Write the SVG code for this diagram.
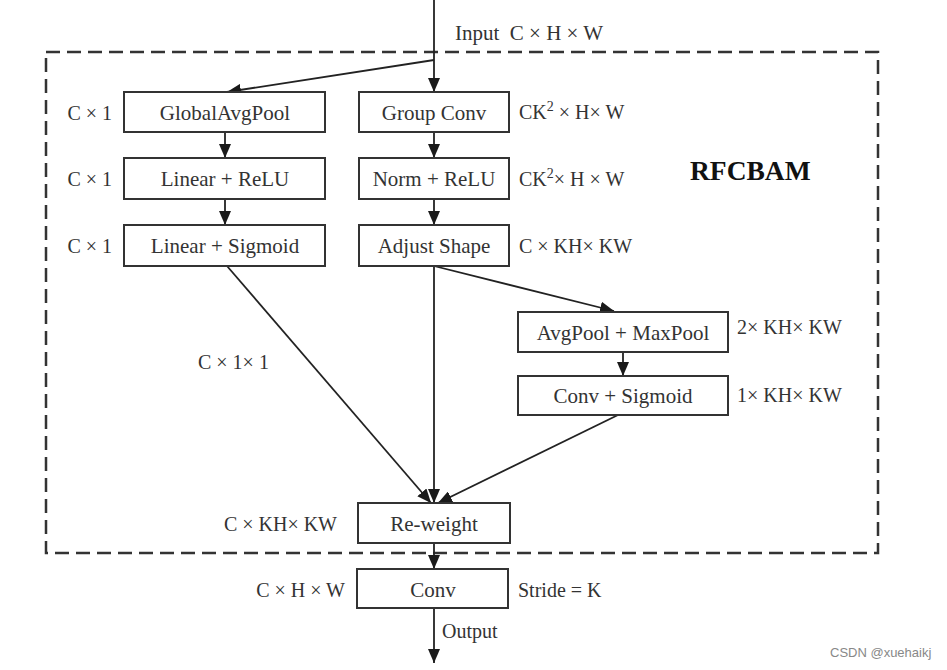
<svg xmlns="http://www.w3.org/2000/svg" width="947" height="670" viewBox="0 0 947 670">
<defs>
<marker id="arr" markerUnits="userSpaceOnUse" markerWidth="14" markerHeight="12" refX="14" refY="6" orient="auto">
<path d="M0,0 L14,6 L0,12 z" fill="#1a1a1a"/>
</marker>
<style>
.box{fill:#fff;stroke:#333;stroke-width:2}
.t{font-family:"Liberation Serif","Times New Roman",serif;font-size:21px;fill:#333;text-anchor:middle}
.l{font-family:"Liberation Serif","Times New Roman",serif;font-size:20px;fill:#333}
.e{text-anchor:end}
.c{fill:none;stroke:#222;stroke-width:1.8;marker-end:url(#arr)}
.sup{font-size:14px}
</style>
</defs>
<rect width="947" height="670" fill="#fff"/>
<rect x="46" y="52" width="832" height="501" fill="none" stroke="#333" stroke-width="2.5" stroke-dasharray="14 7"/>
<g id="connectors">
<line class="c" x1="434" y1="0" x2="434" y2="92"/>
<line class="c" x1="434" y1="60" x2="227" y2="92"/>
<line class="c" x1="225" y1="132" x2="225" y2="158"/>
<line class="c" x1="225" y1="199" x2="225" y2="225"/>
<line class="c" x1="434" y1="132" x2="434" y2="158"/>
<line class="c" x1="434" y1="199" x2="434" y2="225"/>
<line class="c" x1="434" y1="266" x2="614" y2="311"/>
<line class="c" x1="623" y1="352" x2="623" y2="376"/>
<line class="c" x1="227" y1="266" x2="431" y2="503"/>
<line class="c" x1="434" y1="266" x2="434" y2="503"/>
<line class="c" x1="618" y1="415" x2="438" y2="503"/>
<line class="c" x1="434" y1="543" x2="434" y2="569"/>
<line class="c" x1="434" y1="608" x2="434" y2="663"/>
</g>
<g id="globalavgpool"><rect class="box" x="124" y="92" width="201" height="40"/><text class="t" x="225" y="119.5">GlobalAvgPool</text></g>
<g id="linear-relu"><rect class="box" x="124" y="158" width="201" height="41"/><text class="t" x="225" y="186">Linear + ReLU</text></g>
<g id="linear-sigmoid"><rect class="box" x="124" y="225" width="201" height="41"/><text class="t" x="225" y="253">Linear + Sigmoid</text></g>
<g id="group-conv"><rect class="box" x="359" y="92" width="150" height="40"/><text class="t" x="434" y="119.5">Group Conv</text></g>
<g id="norm-relu"><rect class="box" x="359" y="158" width="150" height="41"/><text class="t" x="434" y="186">Norm + ReLU</text></g>
<g id="adjust-shape"><rect class="box" x="359" y="225" width="150" height="41"/><text class="t" x="434" y="253">Adjust Shape</text></g>
<g id="avgpool-maxpool"><rect class="box" x="518" y="312" width="210" height="40"/><text class="t" x="623" y="339.5">AvgPool + MaxPool</text></g>
<g id="conv-sigmoid"><rect class="box" x="518" y="376" width="210" height="39"/><text class="t" x="623" y="403">Conv + Sigmoid</text></g>
<g id="re-weight"><rect class="box" x="358" y="503" width="152" height="40"/><text class="t" x="434" y="530.5">Re-weight</text></g>
<g id="conv"><rect class="box" x="357" y="569" width="151" height="39"/><text class="t" x="433" y="596.5">Conv</text></g>
<g id="labels">
<text class="l" x="455" y="39.5" xml:space="preserve" style="font-size:21px">Input  C × H × W</text>
<text class="l e" x="112" y="119.5">C × 1</text>
<text class="l e" x="112" y="186">C × 1</text>
<text class="l e" x="112" y="252.5">C × 1</text>
<text class="l" x="519" y="118.5">CK<tspan class="sup" dy="-8">2</tspan><tspan dy="8"> × H× W</tspan></text>
<text class="l" x="519" y="185.5">CK<tspan class="sup" dy="-8">2</tspan><tspan dy="8">× H × W</tspan></text>
<text class="l" x="519" y="252.5">C × KH× KW</text>
<text x="690" y="180" style="font-family:'Liberation Serif','Times New Roman',serif;font-size:27.5px;font-weight:bold;fill:#111">RFCBAM</text>
<text class="l" x="737" y="334">2× KH× KW</text>
<text class="l" x="737" y="402">1× KH× KW</text>
<text class="l" x="198" y="369">C × 1× 1</text>
<text class="l e" x="337" y="530.5">C × KH× KW</text>
<text class="l e" x="345" y="597">C × H × W</text>
<text class="l" x="518" y="597">Stride = K</text>
<text class="l" x="442" y="638">Output</text>
<text x="830" y="657" style="font-family:'Liberation Sans',Arial,sans-serif;font-size:13px;fill:#888">CSDN @xuehaikj</text>
</g>
</svg>
